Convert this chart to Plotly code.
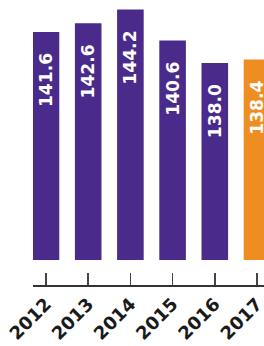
import plotly.graph_objects as go

years = ["2012", "2013", "2014", "2015", "2016", "2017"]
values = [141.6, 142.6, 144.2, 140.6, 138.0, 138.4]
colors = ["#4A2A8A", "#4A2A8A", "#4A2A8A", "#4A2A8A", "#4A2A8A", "#EE8E22"]
labels = [f"{v:.1f}\u00a0\u00a0\u00a0" for v in values]

W, H = 264, 346
plot_h = 285

fig = go.Figure(go.Bar(
    x=years,
    y=values,
    width=0.63,
    marker=dict(color=colors, line=dict(width=0)),
    text=labels,
    textposition="inside",
    insidetextanchor="end",
    textangle=-90,
    textfont=dict(family="DejaVu Sans", size=20, color="white", weight="bold"),
    hoverinfo="skip",
))

fig.update_layout(
    width=W, height=H,
    margin=dict(l=0, r=0, t=0, b=H - plot_h, pad=0, autoexpand=False),
    paper_bgcolor="white",
    plot_bgcolor="white",
    showlegend=False,
    xaxis=dict(
        domain=[33 / W, 1],
        range=[-0.308, 5.166],
        automargin=False,
        anchor="free",
        position=0,
        showline=True,
        linecolor="#333333",
        linewidth=1.5,
        ticks="inside",
        ticklen=12,
        tickwidth=1.5,
        tickcolor="#444444",
        tickangle=-45,
        tickfont=dict(family="DejaVu Sans", size=18, color="#1a1a1a", weight="bold"),
        showgrid=False,
        zeroline=False,
    ),
    yaxis=dict(
        domain=[25 / plot_h, 1],
        range=[115.2, 145.3],
        automargin=False,
        visible=False,
        showgrid=False,
        zeroline=False,
    ),
)

fig.write_html(
    "out.html",
    config={"displayModeBar": False, "staticPlot": True},
    post_script="document.body.style.margin='0';document.body.style.overflow='hidden';",
)
